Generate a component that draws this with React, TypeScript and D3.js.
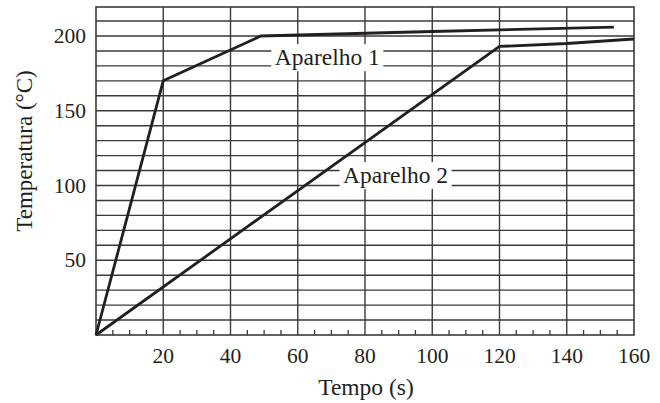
import React from "react";
import * as d3 from "d3";

const xTickValues = [20, 40, 60, 80, 100, 120, 140, 160];
const xMinorTicks = [5, 10, 15, 25, 30, 35, 45, 50, 55, 65, 70, 75, 85, 90, 95, 105, 110, 115, 125, 130, 135, 145, 150, 155];
const yTickValues = [50, 100, 150, 200];
const yGridValues = [10, 20, 30, 40, 50, 60, 70, 80, 90, 100, 110, 120, 130, 140, 150, 160, 170, 180, 190, 200, 210];
const xGridValues = [20, 40, 60, 80, 100, 120, 140];

const aparelho1Time = [0, 20, 49, 100, 154];
const aparelho1Temp = [0, 170, 200, 203, 206];
const aparelho2Time = [0, 120, 140, 160];
const aparelho2Temp = [0, 193, 195, 198];

const labels = [
  { text: "Aparelho 1", t: 68.8, temp: 180.5 },
  { text: "Aparelho 2", t: 89.1, temp: 101.7 },
];

const W = 660;
const H = 403;
const left = 96;
const right = 634;
const top = 7;
const bottom = 335;
const FONT = "'Liberation Serif', 'Times New Roman', serif";

export default function App() {
  const x = d3.scaleLinear().domain([0, 160]).range([left, right]);
  const y = d3.scaleLinear().domain([0, 219.4]).range([bottom, top]);
  const line = d3
    .line<[number, number]>()
    .x((d) => x(d[0]))
    .y((d) => y(d[1]));
  const s1 = aparelho1Time.map((t, i) => [t, aparelho1Temp[i]] as [number, number]);
  const s2 = aparelho2Time.map((t, i) => [t, aparelho2Temp[i]] as [number, number]);
  const ink = "#231f20";

  return (
    <svg
      width={W}
      height={H}
      style={{ position: "absolute", left: 0, top: 0, background: "#fff" }}
      fontFamily={FONT}
    >
      <rect x={0} y={0} width={W} height={H} fill="#fff" />
      {yGridValues.map((v) => (
        <line key={"hy" + v} x1={left} x2={right} y1={y(v)} y2={y(v)} stroke="#3a3a3a" strokeWidth={1.4} />
      ))}
      {xGridValues.map((v) => (
        <line key={"vx" + v} x1={x(v)} x2={x(v)} y1={top} y2={bottom} stroke="#3a3a3a" strokeWidth={1.4} />
      ))}
      {xMinorTicks.map((v) => (
        <line key={"mt" + v} x1={x(v)} x2={x(v)} y1={bottom} y2={bottom - 5} stroke="#3a3a3a" strokeWidth={1.3} />
      ))}
      <rect x={left} y={top} width={right - left} height={bottom - top} fill="none" stroke="#3a3a3a" strokeWidth={1.6} />
      {labels.map((l) => (
        <g key={l.text}>
          <rect x={x(l.t) - 56} y={y(l.temp) - 21} width={112} height={27} fill="#fff" />
          <text x={x(l.t)} y={y(l.temp)} textAnchor="middle" fontSize={23.5} fill={ink}>
            {l.text}
          </text>
        </g>
      ))}
      <path d={line(s1) || ""} fill="none" stroke={ink} strokeWidth={2.8} strokeLinejoin="miter" />
      <path d={line(s2) || ""} fill="none" stroke={ink} strokeWidth={2.8} strokeLinejoin="miter" />
      {xTickValues.map((v) => (
        <text key={"xt" + v} x={x(v)} y={bottom + 28} textAnchor="middle" fontSize={21.5} fill={ink}>
          {v}
        </text>
      ))}
      {yTickValues.map((v) => (
        <text key={"yt" + v} x={left - 10} y={y(v) + 7} textAnchor="end" fontSize={21.5} fill={ink}>
          {v}
        </text>
      ))}
      <text x={366} y={395} textAnchor="middle" fontSize={23.5} fill={ink}>
        Tempo (s)
      </text>
      <text
        transform={`translate(32, ${151}) rotate(-90)`}
        textAnchor="middle"
        fontSize={23}
        fill={ink}
      >
        Temperatura (°C)
      </text>
    </svg>
  );
}
